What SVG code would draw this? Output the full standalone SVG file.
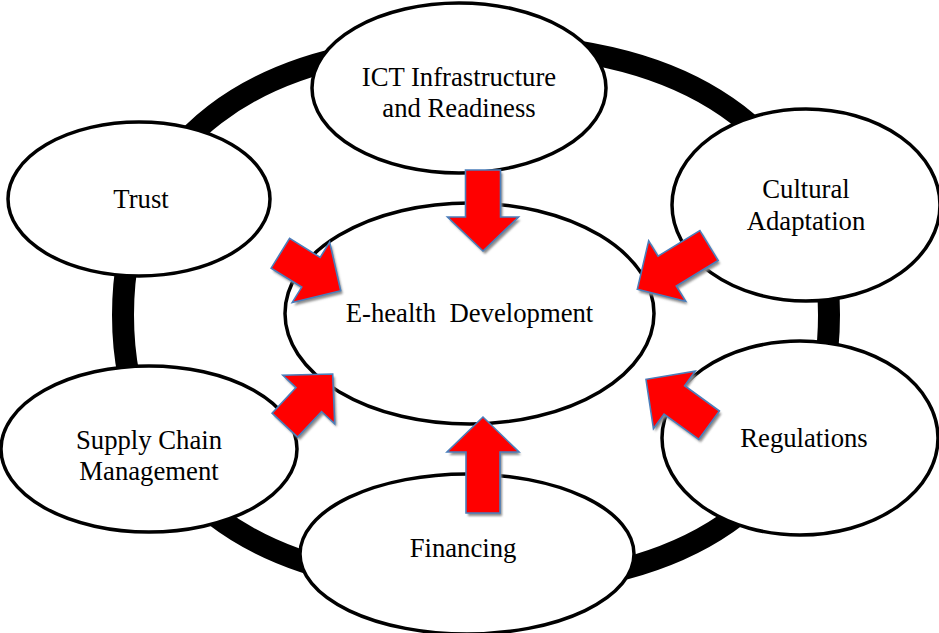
<svg xmlns="http://www.w3.org/2000/svg" xmlns:xlink="http://www.w3.org/1999/xlink" width="939" height="633" viewBox="0 0 939 633">
  <style>
    .node { fill: #ffffff; stroke: #000000; stroke-width: 3.5; }
    .label { font-family: "Liberation Serif", "Times New Roman", serif; font-size: 26.7px; fill: #000000; text-anchor: middle; }
    .ring { fill: none; stroke: #000000; stroke-width: 22; }
    .arrow { fill: #ff0000; stroke: #4a7ebb; stroke-width: 1.6; stroke-linejoin: miter; }
    .shadow { fill: #8c8c8c; stroke: none; filter: url(#soft); }
  </style>
  <defs>
    <filter id="soft" x="-20%" y="-20%" width="140%" height="140%">
      <feGaussianBlur stdDeviation="0.9"/>
    </filter>
    <!-- block arrows pointing along +x, tip at the origin -->
    <path id="arr71" d="M0,0 L-35,-35.5 L-35,-17.5 L-71,-17.5 L-71,17.5 L-35,17.5 L-35,35.5 Z"/>
    <path id="arr70" d="M0,0 L-35,-35.5 L-35,-17.5 L-70,-17.5 L-70,17.5 L-35,17.5 L-35,35.5 Z"/>
    <path id="arr78" d="M0,0 L-35,-35.5 L-35,-17.5 L-78,-17.5 L-78,17.5 L-35,17.5 L-35,35.5 Z"/>
    <path id="arr81" d="M0,0 L-34,-35.5 L-34,-17.5 L-81,-17.5 L-81,17.5 L-34,17.5 L-34,35.5 Z"/>
    <path id="arr84" d="M0,0 L-35,-35.5 L-35,-17.5 L-84,-17.5 L-84,17.5 L-35,17.5 L-35,35.5 Z"/>
    <path id="arr96" d="M0,0 L-35,-36 L-35,-17 L-96,-17 L-96,17 L-35,17 L-35,36 Z"/>
  </defs>

  <!-- outer ring linking the factors -->
  <g id="ring">
    <path class="ring" d="M829,315 C829,141.6 702,44 476,44 C250,44 123,141.6 123,315 C123,488.4 250,586 476,586 C702,586 829,488.4 829,315 Z"/>
  </g>

  <g id="node-ict">
    <ellipse class="node" cx="459" cy="88" rx="147" ry="85"/>
    <text class="label" x="459" y="86">ICT Infrastructure</text>
    <text class="label" x="459" y="117">and Readiness</text>
  </g>
  <g id="node-trust">
    <ellipse class="node" cx="139" cy="199" rx="131" ry="77"/>
    <text class="label" x="141" y="208">Trust</text>
  </g>
  <g id="node-cultural">
    <ellipse class="node" cx="806" cy="205" rx="134" ry="96"/>
    <text class="label" x="806" y="198">Cultural</text>
    <text class="label" x="806" y="230">Adaptation</text>
  </g>
  <g id="node-ehealth">
    <ellipse class="node" cx="469.5" cy="313.5" rx="184.5" ry="110.5"/>
    <text class="label" x="469.5" y="322" xml:space="preserve">E-health  Development</text>
  </g>
  <g id="node-supply">
    <ellipse class="node" cx="149" cy="449" rx="148" ry="83"/>
    <text class="label" x="149" y="449">Supply Chain</text>
    <text class="label" x="149" y="480">Management</text>
  </g>
  <g id="node-regulations">
    <ellipse class="node" cx="800" cy="438" rx="138" ry="97"/>
    <text class="label" x="804" y="447">Regulations</text>
  </g>
  <g id="node-financing">
    <ellipse class="node" cx="467" cy="554" rx="167" ry="80"/>
    <text class="label" x="463" y="557">Financing</text>
  </g>

  <!-- block arrows pointing into the central node -->
  <g id="connectors">
    <g transform="translate(2,3)">
      <use class="shadow" xlink:href="#arr81" transform="translate(483,251) rotate(90)"/>
      <use class="shadow" xlink:href="#arr96" transform="translate(483,417) rotate(-90)"/>
      <use class="shadow" xlink:href="#arr71" transform="translate(340.7,290.7) rotate(31.8)"/>
      <use class="shadow" xlink:href="#arr84" transform="translate(637.3,289.3) rotate(148.6)"/>
      <use class="shadow" xlink:href="#arr78" transform="translate(646,379.3) rotate(216)"/>
      <use class="shadow" xlink:href="#arr70" transform="translate(332.7,374) rotate(-46.9)"/>
    </g>
    <use class="arrow" xlink:href="#arr81" transform="translate(483,251) rotate(90)"/>
    <use class="arrow" xlink:href="#arr96" transform="translate(483,417) rotate(-90)"/>
    <use class="arrow" xlink:href="#arr71" transform="translate(340.7,290.7) rotate(31.8)"/>
    <use class="arrow" xlink:href="#arr84" transform="translate(637.3,289.3) rotate(148.6)"/>
    <use class="arrow" xlink:href="#arr78" transform="translate(646,379.3) rotate(216)"/>
    <use class="arrow" xlink:href="#arr70" transform="translate(332.7,374) rotate(-46.9)"/>
  </g>
</svg>
